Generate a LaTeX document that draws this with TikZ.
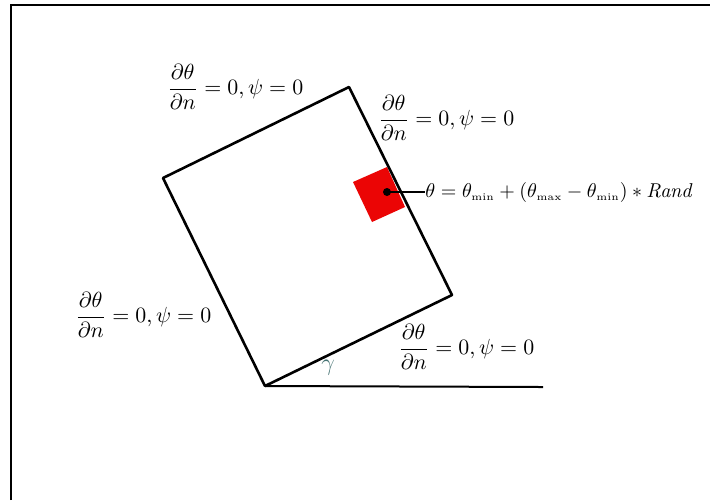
\documentclass[tikz,border=0pt]{standalone}
\usepackage{amsmath,amssymb}
\usepackage{tikz}
\usetikzlibrary{positioning, calc}
\definecolor{cellred}{RGB}{235,5,5}
\definecolor{gammacol}{RGB}{70,115,115}

\begin{document}
\begin{tikzpicture}[x=0.5pt, y=-0.5pt,
    wall/.style={line width=1.3pt, line join=round},
    bclabel/.style={inner sep=0pt, font=\fontsize{10.5}{12}\selectfont, anchor=west},
  ]
  \useasboundingbox (0,0) rectangle (710,500);
  % 外框 (只看到左边和上边)
  \coordinate (f1) at (11,500);
  \coordinate (f2) at (11,5);
  \coordinate (f3) at (710,5);
  \draw[line width=1.3pt] (f1) -- (f2) -- (f3);
  % 倾斜矩形的四个角
  \coordinate (b) at (265,386);
  \coordinate (r) at (452,295);
  \coordinate (t) at (349,87);
  \coordinate (l) at (163,178);
  \coordinate (h) at (543,387);
  % 红色单元, 先填充再画边
  \coordinate (c1) at (353,182);
  \coordinate (c2) at (387,167);
  \coordinate (c3) at (405,207);
  \coordinate (c4) at (372,222);
  \fill[cellred] (c1) -- (c2) -- (c3) -- (c4) -- cycle;
  \draw[wall] (b) -- (r) -- (t) -- (l) -- cycle;
  \draw[line width=1pt] (b) -- (h); % 水平基线
  \coordinate (dot) at (387,192);
  \fill (dot) circle (4);
  % 边界条件
  \node[bclabel] (bctop) at (167,87) {$\dfrac{\partial\theta}{\partial n}=0,\psi=0$};
  \node[bclabel] (bcright) at (378,118) {$\dfrac{\partial\theta}{\partial n}=0,\psi=0$};
  \node[bclabel] (bcleft) at (75,315) {$\dfrac{\partial\theta}{\partial n}=0,\psi=0$};
  \node[bclabel] (bcbottom) at (398,347) {$\dfrac{\partial\theta}{\partial n}=0,\psi=0$};
  \node[bclabel, font=\normalsize, right=19pt of dot] (randrule) {$\theta=\theta_{\scriptscriptstyle\min}+(\theta_{\scriptscriptstyle\max}-\theta_{\scriptscriptstyle\min})*\mathit{Rand}$};
  \draw[line width=0.8pt] (dot) -- (randrule.west);
  \node[inner sep=0pt, text=gammacol, font=\large] (gam) at (328,368) {$\gamma$};
\end{tikzpicture}
\end{document}
